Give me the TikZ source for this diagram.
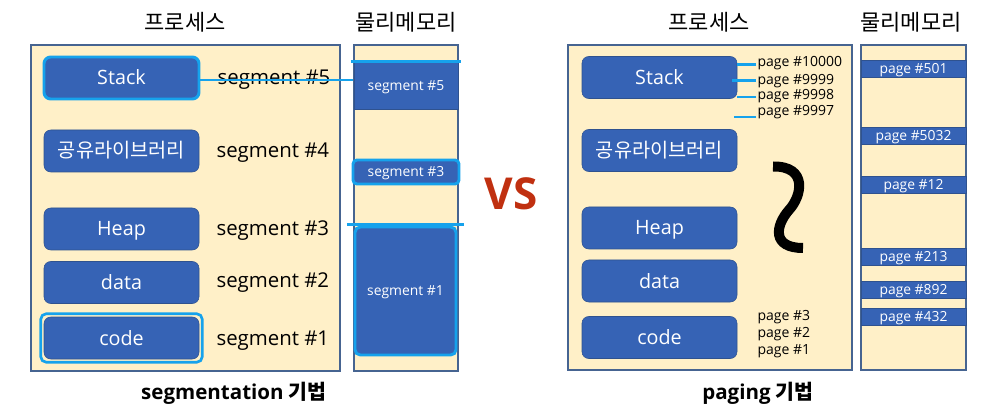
\documentclass[tikz,border=0pt]{standalone}
\usepackage{fontspec}
\setmainfont{Open Sans}
\newfontfamily\kr{Noto Sans CJK KR}
\usepackage{tikz}
\usetikzlibrary{positioning,fit}
\definecolor{paper}{RGB}{255,240,200}
\definecolor{cellblue}{RGB}{54,99,181}
\definecolor{celledge}{RGB}{47,82,143}
\definecolor{hilite}{RGB}{22,162,236}
\definecolor{frame}{RGB}{70,100,145}
\definecolor{vsred}{RGB}{192,48,16}
\tikzset{
  sz/.style 2 args={minimum width=#1*0.75pt,minimum height=#2*0.75pt},
  panel/.style={draw=frame,fill=paper,line width=0.8pt,inner sep=0pt},
  title/.style={font=\kr\fontsize{16.5}{19}\selectfont},
  part/.style={draw=celledge,fill=cellblue,rounded corners=5pt,text=white,inner sep=0pt,
    sz={155}{42},font=\fontsize{14.8}{17}\selectfont,text height=10.5pt,text depth=0pt},
  kor/.style={font=\kr\fontsize{14.8}{17}\selectfont},
  hiedge/.style={draw=hilite,line width=2.2pt},
  ring/.style={draw=hilite,line width=2pt,rounded corners=4pt},
  seglab/.style={font=\fontsize{15.3}{18}\selectfont,inner sep=0pt,text height=10.5pt,text depth=0pt},
  cell/.style={draw=celledge,fill=cellblue,text=white,inner sep=0pt,
    font=\fontsize{10.4}{12}\selectfont,text height=7.5pt,text depth=0pt},
  pglab/.style={font=\fontsize{10.5}{12}\selectfont,inner sep=1pt,anchor=west,
    text height=7.5pt,text depth=0pt},
  link/.style={draw=hilite,line width=2.2pt},
  bar/.style={draw=hilite,line width=2.4pt},
  tick/.style={draw=hilite,line width=2.2pt},
  squig/.style={line width=7.5pt},
  caption/.style={font=\bfseries\fontsize{15.4}{18}\selectfont},
}

\begin{document}
\begin{tikzpicture}[x=0.75pt,y=-0.75pt]
  \useasboundingbox (0,0) rectangle (1006,413);
  % segmentation
  \node[panel,sz={309}{326}] (lproc) at (185.5,208) {};
  \node[panel,sz={104}{326}] (lmem) at (406,208) {};
  \node[title] (lproct) at (185,22) {프로세스};
  \node[title] (lmemt) at (406,22) {물리메모리};

  \node[part,hiedge] (lstack) at (121.5,78) {Stack};
  \node[part,kor] (llib) at (121.5,151) {공유라이브러리};
  \node[part] (lheap) at (121.5,229) {Heap};
  \node[part] (ldata) at (121.5,282.5) {data};
  \node[part] (lcode) at (121.5,338) {code};
  \node[ring,fit=(lcode),inner sep=2.2pt] (lring) {};

  \node[seglab,right=12.75pt of lstack] (l5) {segment \#5};
  \node[seglab,right=12.75pt of llib] (l4) {segment \#4};
  \node[seglab,right=12.75pt of lheap] (l3) {segment \#3};
  \node[seglab,right=12.75pt of ldata,yshift=1.5pt] (l2) {segment \#2};
  \node[seglab,right=12.75pt of lcode] (l1) {segment \#1};

  \node[cell,sz={104}{47}] (m5) at (406,85.5) {segment \#5};
  \node[cell,hiedge,rounded corners=3pt,sz={106}{24}] (m3) at (406,172) {segment \#3};
  \node[cell,hiedge,rounded corners=4pt,sz={101}{128}] (m1) at (405.5,291) {segment \#1};
  \draw[bar] ([xshift=-2.2pt]m5.north west) -- ([xshift=2.2pt]m5.north east);
  \draw[bar] ([xshift=-5pt,yshift=1pt]m1.north west) -- ([xshift=5pt,yshift=1pt]m1.north east);
  \draw[link] ([yshift=-1.5pt]lstack.east) -- ([yshift=-1.5pt]lstack.east -| lmem.west);

  % vs
  \node[font=\bfseries\fontsize{33}{38}\selectfont,text=vsred] (vs) at (511,194) {VS};

  % paging
  \node[panel,sz={284}{325}] (rproc) at (710,207.5) {};
  \node[panel,sz={105}{325}] (rmem) at (913.5,207.5) {};
  \node[title] (rproct) at (709,22) {프로세스};
  \node[title] (rmemt) at (911,22) {물리메모리};

  \node[part] (rstack) at (659.5,77.5) {Stack};
  \node[part,kor] (rlib) at (659.5,150.5) {공유라이브러리};
  \node[part] (rheap) at (659.5,228) {Heap};
  \node[part] (rdata) at (659.5,281) {data};
  \node[part] (rcode) at (659.5,337.5) {code};

  \node[pglab] (p10000) at (756,61.5) {page \#10000};
  \node[pglab] (p9999) at (756,79.3) {page \#9999};
  \node[pglab] (p9998) at (756,95) {page \#9998};
  \node[pglab] (p9997) at (756,111) {page \#9997};
  \draw[tick] ([yshift=-2.5pt]p10000.west) -- ++(-19,0);
  \draw[tick] ([yshift=-1.2pt]p9999.west) -- ++(-24,0);
  \draw[tick] ([yshift=-1.5pt]p9998.west) -- ++(-19,0);
  \draw[tick] ([yshift=-4.5pt]p9997.west) -- ++(-22,0);

  \draw[squig] (773,166.5) .. controls (808,166) and (802,196) .. (789,210)
    .. controls (775,226) and (772,248) .. (803,248);

  \node[pglab] (p3) at (756,315) {page \#3};
  \node[pglab] (p2) at (756,332) {page \#2};
  \node[pglab] (p1) at (756,349) {page \#1};

  \node[cell,sz={105}{17}] (q501) at (913.5,68.5) {page \#501};
  \node[cell,sz={105}{17}] (q5032) at (913.5,135.5) {page \#5032};
  \node[cell,sz={105}{17}] (q12) at (913.5,184.5) {page \#12};
  \node[cell,sz={105}{17}] (q213) at (913.5,257) {page \#213};
  \node[cell,sz={105}{17}] (q892) at (913.5,290) {page \#892};
  \node[cell,sz={105}{17}] (q432) at (913.5,316.5) {page \#432};

  \node[caption] (lcap) at (234,393) {segmentation {\kr 기법}};
  \node[caption] (rcap) at (758,393) {paging {\kr 기법}};
\end{tikzpicture}
\end{document}
